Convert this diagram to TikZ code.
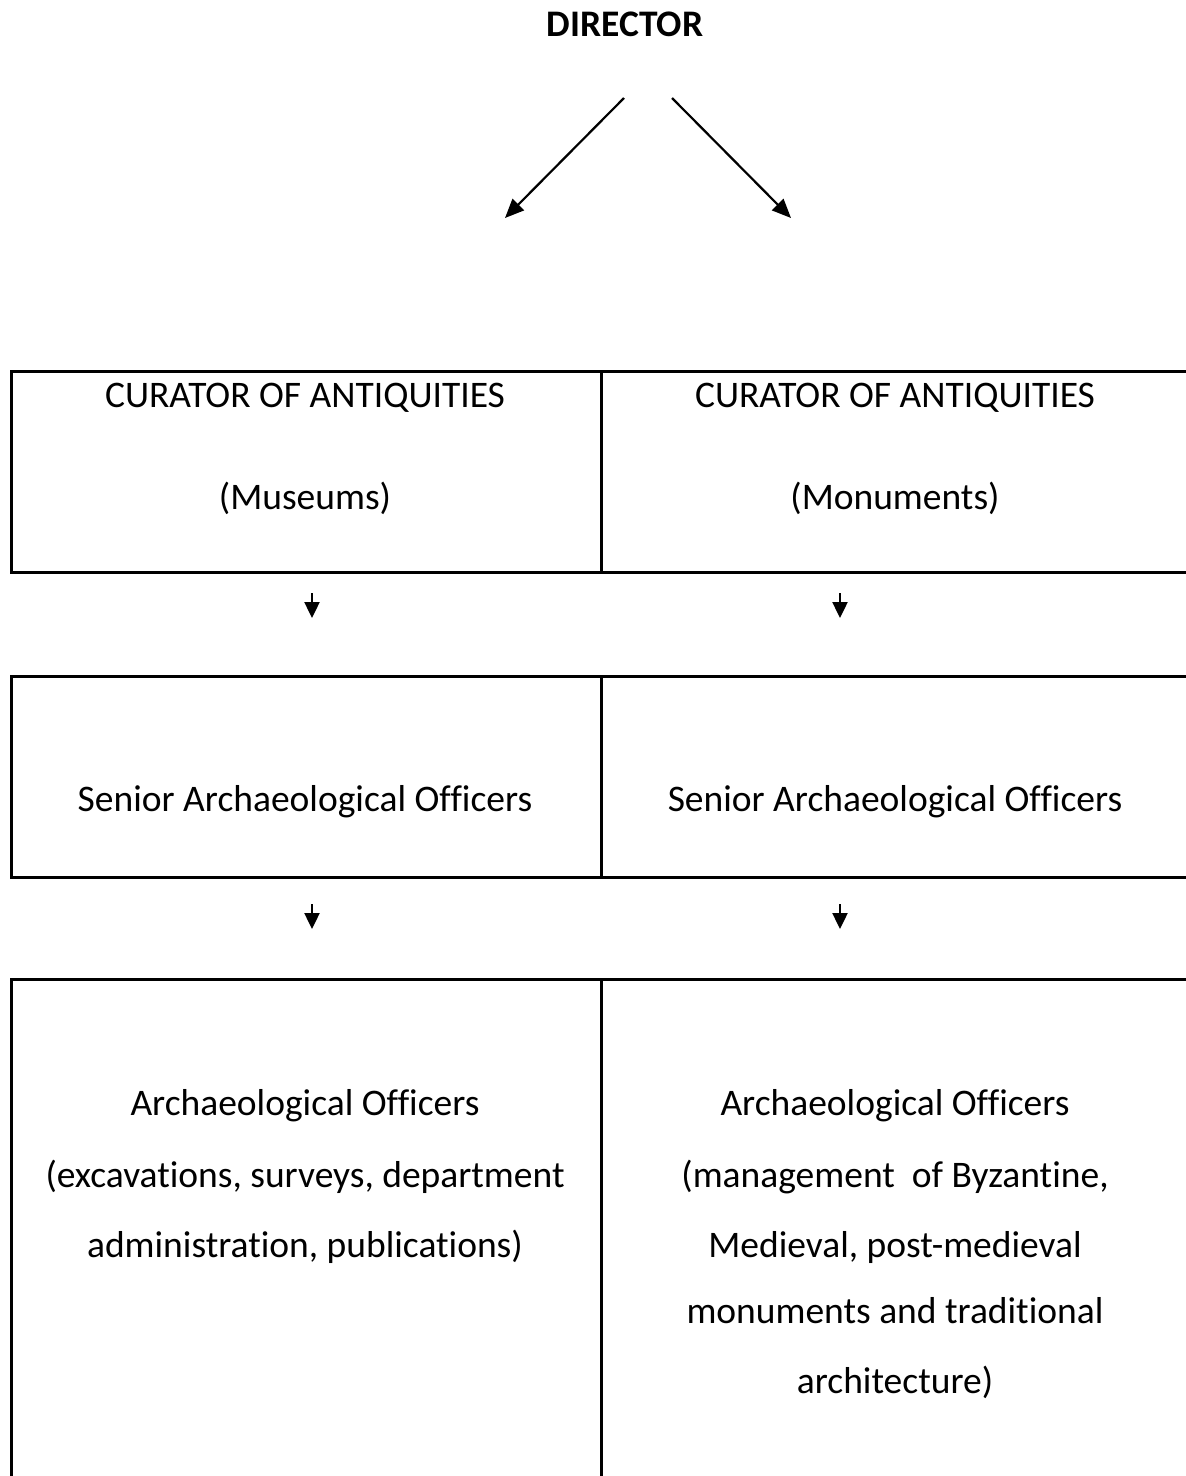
\documentclass[tikz,border=0pt]{standalone}
\usepackage{fontspec}
\setmainfont{Carlito}[Ligatures=CommonOff]
\usetikzlibrary{arrows.meta}
\begin{document}
\begin{tikzpicture}[x=1pt,y=-1pt,
  cell/.style={draw=black,line width=2.6pt,minimum width=590pt,inner sep=0pt,anchor=north west},
  lbl/.style={font=\fontsize{37.5}{44}\selectfont,inner sep=0pt,anchor=base},
  bigarrow/.style={line width=2.2pt,-{Triangle[length=19pt,width=16pt]}},
  smallarrow/.style={line width=2.4pt,-{Triangle[length=16pt,width=15pt]}}]
\useasboundingbox (0,0) rectangle (1186,1476);
\clip (0,0) rectangle (1186,1476);
\node[font=\fontsize{37.5}{44}\selectfont\bfseries,inner sep=0pt,anchor=base] (dir) at (625,36) {DIRECTOR};
% boxes
\node[cell,minimum height=201pt] (b1l) at (10,370) {};
\node[cell,minimum height=201pt] (b1r) at (600,370) {};
\node[cell,minimum height=201pt] (b2l) at (10,675) {};
\node[cell,minimum height=201pt] (b2r) at (600,675) {};
\node[cell,minimum height=560pt] (b3l) at (10,978) {};
\node[cell,minimum height=560pt] (b3r) at (600,978) {};
% texts
\node[lbl] (t1) at (305,407) {CURATOR OF ANTIQUITIES};
\node[lbl] (t2) at (305,509) {(Museums)};
\node[lbl] (t3) at (895,407) {CURATOR OF ANTIQUITIES};
\node[lbl] (t4) at (895,509) {(Monuments)};
\node[lbl] (t5) at (305,811) {Senior Archaeological Officers};
\node[lbl] (t6) at (895,811) {Senior Archaeological Officers};
\node[lbl] (t7) at (305,1115) {Archaeological Officers};
\node[lbl] (t8) at (305,1187) {(excavations, surveys, department};
\node[lbl] (t9) at (305,1257) {administration, publications)};
\node[lbl] (t10) at (895,1115) {Archaeological Officers};
\node[lbl] (t11) at (895,1187) {(management\ \ of Byzantine,};
\node[lbl] (t12) at (895,1257) {Medieval, post-medieval};
\node[lbl] (t13) at (895,1323) {monuments and traditional};
\node[lbl] (t14) at (895,1393) {architecture)};
% arrows
\coordinate (a1s) at (624,98); \coordinate (a1e) at (505,218);
\coordinate (a2s) at (672,98); \coordinate (a2e) at (791,218);
\draw[bigarrow] (a1s) -- (a1e);
\draw[bigarrow] (a2s) -- (a2e);
\coordinate (s1a) at (312,593); \coordinate (s1b) at (312,618);
\coordinate (s2a) at (840,593); \coordinate (s2b) at (840,618);
\coordinate (s3a) at (312,904); \coordinate (s3b) at (312,929);
\coordinate (s4a) at (840,904); \coordinate (s4b) at (840,929);
\draw[smallarrow] (s1a) -- (s1b);
\draw[smallarrow] (s2a) -- (s2b);
\draw[smallarrow] (s3a) -- (s3b);
\draw[smallarrow] (s4a) -- (s4b);
\end{tikzpicture}
\end{document}
